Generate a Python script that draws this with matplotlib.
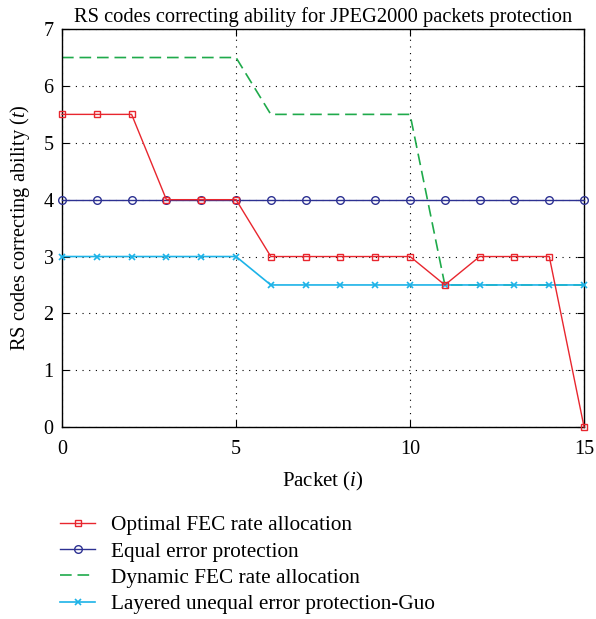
import matplotlib
matplotlib.use("Agg")
import matplotlib.pyplot as plt
import numpy as np

plt.rcParams['font.family'] = ['Liberation Serif', 'DejaVu Serif']
plt.rcParams['mathtext.fontset'] = 'custom'
plt.rcParams['mathtext.it'] = 'Liberation Serif:italic'
plt.rcParams['mathtext.rm'] = 'Liberation Serif'

packets = list(range(16))
optimal = [5.5, 5.5, 5.5, 4, 4, 4, 3, 3, 3, 3, 3, 2.5, 3, 3, 3, 0]
equal = [4] * 16
dynamic = [6.5, 6.5, 6.5, 6.5, 6.5, 6.5, 5.5, 5.5, 5.5, 5.5, 5.5, 2.5, 2.5, 2.5, 2.5, 2.5]
layered = [3, 3, 3, 3, 3, 3, 2.5, 2.5, 2.5, 2.5, 2.5, 2.5, 2.5, 2.5, 2.5, 2.5]

labels = ["Optimal FEC rate allocation", "Equal error protection",
          "Dynamic FEC rate allocation", "Layered unequal error protection-Guo"]

fig = plt.figure(figsize=(5.96, 6.19), dpi=100)
ax = fig.add_axes([0.104, 0.310, 0.876, 0.643])

l1, = ax.plot(packets, optimal, color='#e8262e', lw=1.0, marker='s', ms=5,
              mfc='none', mec='#e8262e', mew=1.0, zorder=4, clip_on=False)
l2, = ax.plot(packets, equal, color='#2d3192', lw=1.0, marker='o', ms=5.5,
              mfc='none', mec='#2d3192', mew=1.0, zorder=3, clip_on=False)
l3, = ax.plot(packets, dynamic, color='#1faa4b', lw=1.2, ls=(0, (7, 3.5)),
              zorder=2, clip_on=False)
l4, = ax.plot(packets, layered, color='#1cb3e8', lw=1.2, marker='x', ms=4,
              mew=1.2, zorder=3, clip_on=False)

ax.set_xlim(0, 15)
ax.set_ylim(0, 7)
ax.set_xticks([0, 5, 10, 15])
ax.set_yticks(range(8))
ax.tick_params(direction='in', labelsize=14.5, length=5, top=True, right=True,
               pad=6)
ax.tick_params(axis='x', pad=9)
ax.grid(True, color='black', ls=(0, (1, 5)), lw=0.8)
for s in ax.spines.values():
    s.set_linewidth(1.0)

ax.set_title("RS codes correcting ability for JPEG2000 packets protection",
             fontsize=14.8, pad=5)
ax.set_xlabel("Packet ($i$)", fontsize=15, labelpad=8)
ax.set_ylabel("RS codes correcting ability ($t$)", fontsize=14.7, labelpad=8)

fig.legend([l1, l2, l3, l4], labels, loc='upper left',
           bbox_to_anchor=(0.087, 0.181), frameon=False, fontsize=15.3,
           handlelength=1.65, handletextpad=0.75, labelspacing=0.3,
           borderaxespad=0)

fig.savefig("out.png", dpi=100)
